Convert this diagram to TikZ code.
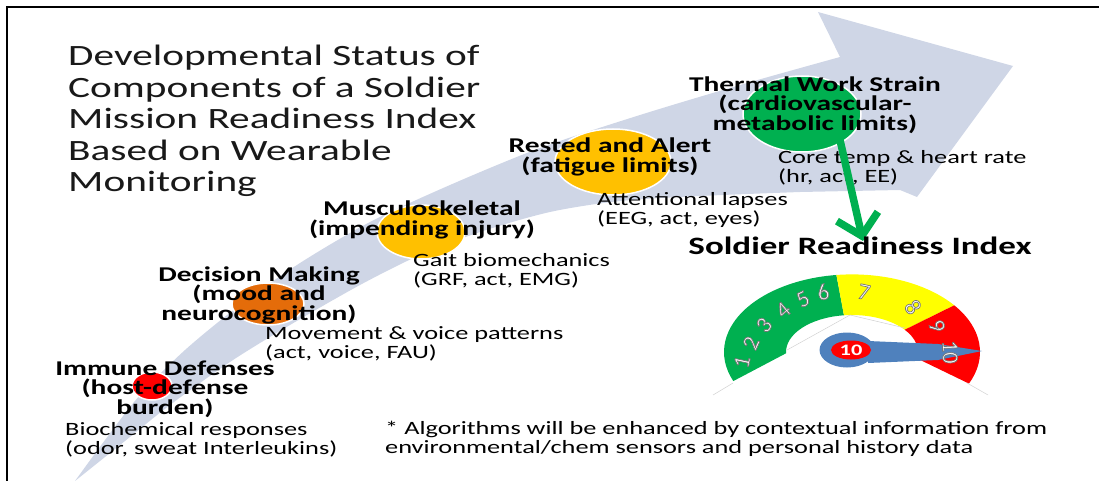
\documentclass[tikz,border=0pt]{standalone}
\usepackage{fontspec}
\setmainfont{Carlito}[FakeStretch=1.4]
\newfontfamily\dialfont{Carlito}
\usetikzlibrary{shapes.geometric,arrows.meta}

\definecolor{bandgray}{RGB}{207,214,230}
\definecolor{okgreen}{RGB}{0,176,80}
\definecolor{warnyellow}{RGB}{255,192,0}
\definecolor{riskorange}{RGB}{228,108,10}
\definecolor{alarmred}{RGB}{255,0,0}
\definecolor{dialyellow}{RGB}{255,255,0}
\definecolor{needleblue}{RGB}{79,129,189}

% white digits with a grey outline (fill + stroke render mode)
\newcommand{\outlined}[1]{\special{pdf:literal direct 0.45 0.45 0.45 RG 0.7 w 2 Tr}#1\special{pdf:literal direct 0 Tr}}

\tikzset{
  dot/.style={ellipse, draw=white, line width=1.5pt, inner sep=0pt},
  head/.style={font=\bfseries\fontsize{21}{19.5}\selectfont, align=center, inner sep=0pt},
  sensor/.style={font=\fontsize{18.8}{19}\selectfont, align=left, anchor=west, inner sep=0pt},
  digit/.style={font=\dialfont\fontsize{23}{23}\selectfont, text=white, inner sep=0pt},
  faint/.style={draw=black!18, line width=0.5pt}
}

\begin{document}
\begin{tikzpicture}[x=1pt, y=-1pt]
  \useasboundingbox (0,0) rectangle (1099,481);
  \draw[line width=1.2pt] (7,481) -- (7,7) -- (1099,7);

  % curved progress arrow
  \fill[bandgray] plot[smooth] coordinates {(75,481) (105,440) (140,395) (185,350) (240,305)
      (300,263) (370,222) (450,185) (540,148) (640,115) (740,85) (840,57)}
    -- (818,12) -- (1013,66) -- (917,197) -- (900,190)
    -- plot[smooth] coordinates {(800,192) (700,196) (620,201) (550,212) (480,232)
      (420,255) (360,285) (290,325) (230,362) (170,405) (120,445) (75,481)} -- cycle;

  % status dots
  \node[dot, fill=alarmred, minimum width=40pt, minimum height=28pt] (immune) at (152,386) {};
  \node[dot, fill=riskorange, minimum width=72pt, minimum height=42pt] (decision) at (268,304) {};
  \node[dot, fill=warnyellow, minimum width=88pt, minimum height=54pt] (musculo) at (421,232) {};
  \node[dot, fill=warnyellow, minimum width=116pt, minimum height=66pt] (rested) at (613,162) {};
  \node[dot, fill=okgreen, minimum width=118pt, minimum height=76pt] (thermal) at (802,114) {};

  \node[anchor=west, align=left, inner sep=0pt, text=black!90,
    font=\fontsize{29.5}{31.5}\selectfont] (title) at (68,121)
    {Developmental Status of\\Components of a Soldier\\Mission Readiness Index\\Based on Wearable\\Monitoring};

  \node[head] (thermallbl) at (815,105) {Thermal Work Strain\\(cardiovascular-\\metabolic limits)};
  \node[head] (restedlbl) at (610,157) {Rested and Alert\\(fatigue limits)};
  \node[head] (musculolbl) at (422,220) {Musculoskeletal\\(impending injury)};
  \node[head] (decisionlbl) at (259,295) {Decision Making\\(mood and\\neurocognition)};
  \node[head] (immunelbl) at (165,389) {Immune Defenses\\(host-defense\\burden)};

  \node[sensor] (thermaltxt) at (778,168) {Core temp \& heart rate\\(hr, act, EE)};
  \node[sensor] (restedtxt) at (597,210) {Attentional lapses\\(EEG, act, eyes)};
  \node[sensor] (musculotxt) at (413,271) {Gait biomechanics\\(GRF, act, EMG)};
  \node[sensor] (decisiontxt) at (265,344) {Movement \& voice patterns\\(act, voice, FAU)};
  \node[sensor] (immunetxt) at (65,440) {Biochemical responses\\(odor, sweat Interleukins)};
  \node[sensor] (footnote) at (385,439) {* Algorithms will be enhanced by contextual information from\\environmental/chem sensors and personal history data};

  % arrow into the index
  \coordinate (feedstart) at (840,140);
  \coordinate (feedend) at (863,241);
  \draw[okgreen, line width=7.5pt, -{Straight Barb[length=20pt, width=42pt]}] (feedstart) -- (feedend);

  \node[font=\bfseries\fontsize{25}{25}\selectfont, inner sep=0pt] (sri) at (860,246) {Soldier Readiness Index};

  % readiness gauge
  \begin{scope}[shift={(852,352)}]
    \fill[okgreen] (-202:128 and 77.6) arc[start angle=-202, end angle=-97, x radius=128, y radius=77.6]
      -- (-97:66 and 37) arc[start angle=-97, end angle=-182, x radius=66, y radius=37] -- cycle;
    \fill[dialyellow] (-97:128 and 77.6) arc[start angle=-97, end angle=-37, x radius=128, y radius=77.6]
      -- (-37:66 and 37) arc[start angle=-37, end angle=-97, x radius=66, y radius=37] -- cycle;
    \fill[alarmred] (-37:128 and 77.6) arc[start angle=-37, end angle=24, x radius=128, y radius=77.6]
      -- (10:66 and 37) arc[start angle=10, end angle=-37, x radius=66, y radius=37] -- cycle;
  \end{scope}
  \draw[faint] (713,395) -- (733,383);
  \draw[faint] (787,350) -- (850,315) -- (905,328);
  \draw[faint] (967,383) -- (988,395);

  \fill[needleblue] (868,341) -- (938,344) -- (982,351) -- (938,360) -- (868,363) -- cycle;

  \node[digit, rotate=78] (d1) at (742,362) {\outlined{1}};
  \node[digit, rotate=66] (d2) at (751,343) {\outlined{2}};
  \node[digit, rotate=52] (d3) at (764,325) {\outlined{3}};
  \node[digit, rotate=40] (d4) at (783,310) {\outlined{4}};
  \node[digit, rotate=27] (d5) at (803,299) {\outlined{5}};
  \node[digit, rotate=15] (d6) at (823,292) {\outlined{6}};
  \node[digit, rotate=-12] (d7) at (864,292) {\outlined{7}};
  \node[digit, rotate=-55] (d8) at (913,307) {\outlined{8}};
  \node[digit, rotate=-72] (d9) at (937,326) {\outlined{9}};
  \node[digit, rotate=-88] (d10) at (950,352) {\outlined{10}};

  \node[ellipse, fill=needleblue, minimum width=55pt, minimum height=35pt, inner sep=0pt] (hub) at (847,350) {};
  \node[ellipse, fill=alarmred, minimum width=40pt, minimum height=19pt, inner sep=0pt, text=white,
    font=\bfseries\fontsize{16}{16}\selectfont] (score) at (851,350) {10};
\end{tikzpicture}
\end{document}
